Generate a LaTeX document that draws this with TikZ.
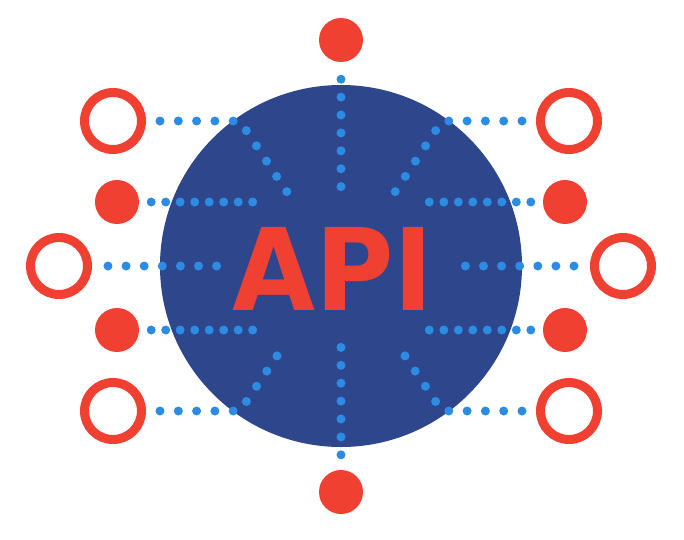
\documentclass[tikz,border=0pt]{standalone}
\usepackage{fontspec}
\newfontfamily\apifont{DejaVu Sans}
\usepackage{xcolor}
\usetikzlibrary{calc}

\definecolor{hubblue}{RGB}{46,71,140}
\definecolor{apired}{RGB}{239,64,50}
\definecolor{linkblue}{RGB}{44,140,228}

\tikzset{
    ring/.style={circle, draw=apired, line width=9pt, minimum size=57pt, inner sep=0pt},
    plug/.style={circle, fill=apired, minimum size=44pt, inner sep=0pt},
    link/.style={draw=linkblue, line width=9pt, line cap=round, dash pattern=on 0pt off #1},
    link/.default=18.3pt
}

\begin{document}
\begin{tikzpicture}[x=1pt,y=1pt]
    \useasboundingbox (-341,266) rectangle (343,-273);

    % Hub
    \node[circle, fill=hubblue, minimum size=362pt, inner sep=0pt] (hub) at (0,0) {};

    % Top and bottom plugs
    \node[plug] (top) at (0,226) {};
    \node[plug] (bottom) at (0,-226) {};
    \coordinate (topend) at (0,78);
    \coordinate (bottomend) at (0,-80);
    \draw[link=17.9pt] ([yshift=-17]top.south) -- (topend);
    \draw[link=17.9pt] ([yshift=15]bottom.north) -- (bottomend);

    % Side plugs and rings
    \foreach \s/\side/\toward in {-1/L/east, 1/R/west} {
        \node[ring] (ringT\side) at (\s*228,145) {};
        \node[ring] (ringM\side) at (\s*282,0) {};
        \node[ring] (ringB\side) at (\s*228,-145) {};
        \node[plug] (plugT\side) at (\s*224,64) {};
        \node[plug] (plugB\side) at (\s*224,-64) {};

        \coordinate (bendT\side) at (\s*101,145);
        \coordinate (bendB\side) at (\s*101,-145);
        \coordinate (spokeT\side) at (\s*54,74);
        \coordinate (spokeB\side) at (\s*54,-75);
        \coordinate (endT\side) at (\s*87,64);
        \coordinate (endB\side) at (\s*87,-64);
        \coordinate (endM\side) at (\s*123,0);

        \draw[link] ([xshift=\s*-14]ringT\side.\toward) -- (bendT\side) -- (spokeT\side);
        \draw[link] ([xshift=\s*-14]ringB\side.\toward) -- (bendB\side) -- (spokeB\side);
        \draw[link=18.1pt] ([xshift=\s*-16]ringM\side.\toward) -- (endM\side);
        \draw[link=14.5pt] ([xshift=\s*-12]plugT\side.\toward) -- (endT\side);
        \draw[link=14.5pt] ([xshift=\s*-12]plugB\side.\toward) -- (endB\side);
    }

    % Label
    \node[text=apired, anchor=base, inner sep=0pt, xscale=0.94,
          font={\apifont\bfseries\fontsize{114pt}{114pt}\selectfont}] (label) at (-8,-44) {API};
\end{tikzpicture}
\end{document}
